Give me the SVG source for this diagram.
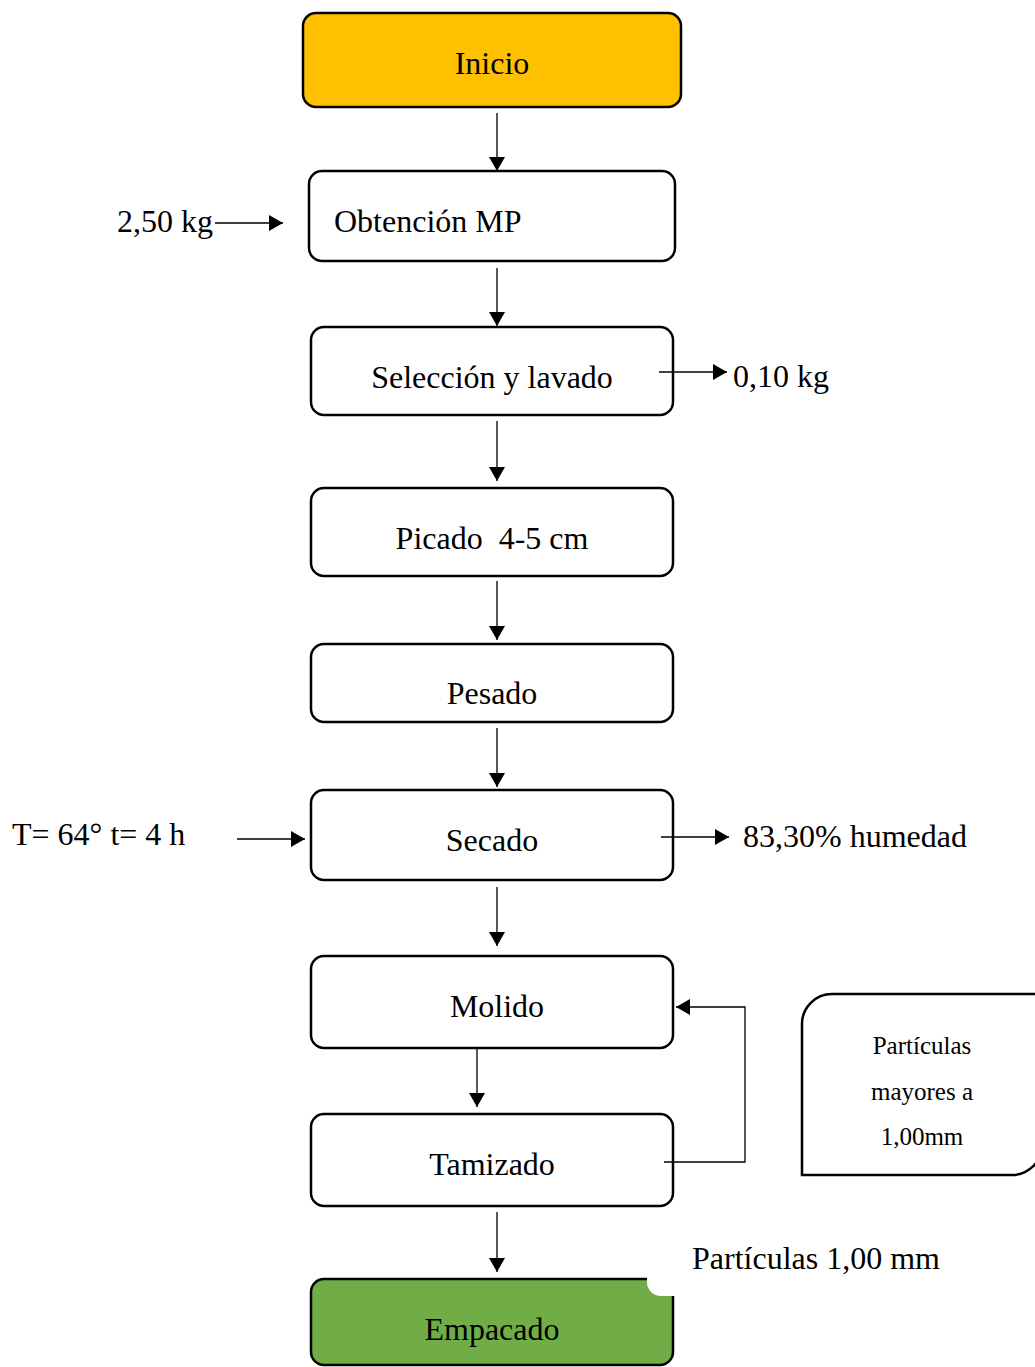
<svg xmlns="http://www.w3.org/2000/svg" width="1035" height="1367" viewBox="0 0 1035 1367">
<style>
.box{fill:#fff;stroke:#000;stroke-width:2.5}
.t{font-family:"Liberation Serif","Times New Roman",serif;font-size:32px;fill:#000}
.s{font-family:"Liberation Serif","Times New Roman",serif;font-size:25px;fill:#000;text-anchor:middle}
.c{text-anchor:middle}
.ln{fill:none;stroke:#000;stroke-width:1.3}
</style>
<defs>
<marker id="ah" markerWidth="14" markerHeight="16" refX="14" refY="8" orient="auto" markerUnits="userSpaceOnUse">
<path d="M0,0 L14,8 L0,16 Z" fill="#000"/>
</marker>
</defs>
<rect width="1035" height="1367" fill="#fff"/>
<g id="inicio"><rect class="box" x="303" y="13" width="378" height="94" rx="13" style="fill:#FFC000"/><text class="t c" x="492" y="74">Inicio</text></g>
<g id="obtencion"><rect class="box" x="309" y="171" width="366" height="90" rx="13"/><text class="t" x="334" y="232">Obtención MP</text></g>
<g id="seleccion"><rect class="box" x="311" y="327" width="362" height="88" rx="13"/><text class="t c" x="492" y="388">Selección y lavado</text></g>
<g id="picado"><rect class="box" x="311" y="488" width="362" height="88" rx="13"/><text class="t c" x="492" y="549" xml:space="preserve">Picado  4-5 cm</text></g>
<g id="pesado"><rect class="box" x="311" y="644" width="362" height="78" rx="13"/><text class="t c" x="492" y="704">Pesado</text></g>
<g id="secado"><rect class="box" x="311" y="790" width="362" height="90" rx="13"/><text class="t c" x="492" y="851">Secado</text></g>
<g id="molido"><rect class="box" x="311" y="956" width="362" height="92" rx="13"/><text class="t c" x="497" y="1017">Molido</text></g>
<g id="tamizado"><rect class="box" x="311" y="1114" width="362" height="92" rx="13"/><text class="t c" x="492" y="1175">Tamizado</text></g>
<g id="empacado"><rect class="box" x="311" y="1279" width="362" height="86" rx="13" style="fill:#70AD47"/><text class="t c" x="492" y="1340">Empacado</text></g>
<g id="label-particulas-100"><rect x="647" y="1230" width="310" height="66" rx="14" fill="#fff"/><text class="t" x="692" y="1269">Partículas 1,00 mm</text></g>
<g id="particulas-mayores"><path class="box" d="M802,1175 L802,1024 A30,30 0 0 1 832,994 L1042,994 L1042,1145 A30,30 0 0 1 1012,1175 Z"/>
<text class="s" x="922" y="1054">Partículas</text><text class="s" x="922" y="1100">mayores a</text><text class="s" x="922" y="1145">1,00mm</text></g>
<g id="labels">
<text class="t" x="117" y="232">2,50 kg</text>
<text class="t" x="733" y="387">0,10 kg</text>
<text class="t" x="12" y="845">T= 64° t= 4 h</text>
<text class="t" x="743" y="847">83,30% humedad</text>
</g>
<g id="connectors">
<line class="ln" x1="497" y1="113" x2="497" y2="171" marker-end="url(#ah)"/>
<line class="ln" x1="497" y1="268" x2="497" y2="326" marker-end="url(#ah)"/>
<line class="ln" x1="497" y1="421" x2="497" y2="481" marker-end="url(#ah)"/>
<line class="ln" x1="497" y1="581" x2="497" y2="640" marker-end="url(#ah)"/>
<line class="ln" x1="497" y1="728" x2="497" y2="787" marker-end="url(#ah)"/>
<line class="ln" x1="497" y1="887" x2="497" y2="946" marker-end="url(#ah)"/>
<line class="ln" x1="477" y1="1048" x2="477" y2="1107" marker-end="url(#ah)"/>
<line class="ln" x1="497" y1="1212" x2="497" y2="1272" marker-end="url(#ah)"/>
<line class="ln" x1="215" y1="223" x2="283" y2="223" marker-end="url(#ah)"/>
<line class="ln" x1="659" y1="372" x2="727" y2="372" marker-end="url(#ah)"/>
<line class="ln" x1="237" y1="839" x2="305" y2="839" marker-end="url(#ah)"/>
<line class="ln" x1="661" y1="837" x2="729" y2="837" marker-end="url(#ah)"/>
<polyline class="ln" points="664,1162 745,1162 745,1007 676,1007" marker-end="url(#ah)"/>
</g>
</svg>
